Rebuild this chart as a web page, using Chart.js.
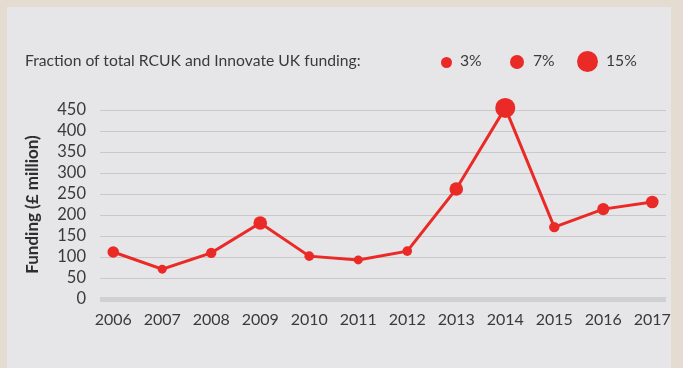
<html lang="en">
<head>
    <title>Funding chart</title>
    <style>
        body { margin: 0; background: #e4dcd1; }
        #panel { position: absolute; left: 7px; top: 7px; width: 664px; height: 361px; background: #e6e6e8; }
        #wrap { position: absolute; left: 0; top: 0; width: 683px; height: 368px; }
        .leg { position: absolute; top: 51px; font-family: Lato, sans-serif; font-size: 15.7px; color: #3a3a3a; }
        .dot { position: absolute; background: #ea2a27; border-radius: 50%; }
    </style>
</head>

<body>
    <div id="panel"></div>
    <div id="wrap"><canvas id="fundChart" width="683" height="368"></canvas></div>

    <!--    Legend   -->
    <div class="leg" style="left:25px">Fraction of total RCUK and Innovate UK funding:</div>
    <div class="dot" style="left:441px; top:57px; width:11px; height:11px"></div>
    <div class="leg" style="left:460px">3%</div>
    <div class="dot" style="left:510px; top:55px; width:14px; height:14px"></div>
    <div class="leg" style="left:533px">7%</div>
    <div class="dot" style="left:577px; top:51px; width:21px; height:21px"></div>
    <div class="leg" style="left:606px">15%</div>

    <script src="https://cdn.jsdelivr.net/npm/chart.js"></script>
    <script>
        const years = [2006, 2007, 2008, 2009, 2010, 2011, 2012, 2013, 2014, 2015, 2016, 2017];
        const funding = [112, 71, 110, 181, 102, 93, 114, 262, 455, 171, 214, 231];
        // fraction of total RCUK + Innovate UK funding (%)
        const fraction = [5, 3, 4, 7, 3.5, 3, 3.5, 7, 15, 4, 5.5, 6];
        const yTicks = [0, 50, 100, 150, 200, 250, 300, 350, 400, 450];

        const red = '#ea2a27';
        const font = 'Lato, sans-serif';

        const fund_c = document.getElementById('fundChart');
        const fundChart = new Chart(fund_c, {
            type: 'line',
            data: {
                datasets: [{
                    label: 'Funding',
                    data: years.map((y, i) => ({x: y, y: funding[i]})),
                    borderColor: red,
                    backgroundColor: red,
                    borderWidth: 3,
                    pointRadius: ctx => 10 * Math.sqrt(fraction[ctx.dataIndex] / 15),
                    pointBorderWidth: 0,
                    tension: 0,
                    clip: false
                }],
            },
            options: {
                responsive: false,
                animation: false,
                layout: {padding: {left: 22, right: 17, top: 110, bottom: 0}},
                plugins: {legend: {display: false}, tooltip: {enabled: false}},
                scales: {
                    x: {
                        type: 'linear',
                        min: 2005.73,
                        max: 2017.28,
                        afterBuildTicks: s => { s.ticks = years.map(v => ({value: v})); },
                        afterFit: s => { s.height = 69; },
                        grid: {display: false},
                        border: {display: false},
                        ticks: {
                            padding: 3,
                            color: '#3a3a3a',
                            font: {family: font, size: 16},
                            callback: v => String(v),
                            maxRotation: 0,
                            autoSkip: false
                        }
                    },
                    y: {
                        min: 0,
                        max: 450,
                        afterBuildTicks: s => { s.ticks = yTicks.map(v => ({value: v})); },
                        afterFit: s => { s.width = 78; },
                        border: {display: false},
                        grid: {
                            drawTicks: false,
                            color: ctx => ctx.tick && ctx.tick.value === 0 ? '#cfd0d2' : '#c9c9cb',
                            lineWidth: ctx => ctx.tick && ctx.tick.value === 0 ? 5 : 1
                        },
                        ticks: {
                            padding: 14,
                            autoSkip: false,
                            color: '#3a3a3a',
                            font: {family: font, size: 16.5}
                        },
                        title: {
                            display: true,
                            text: 'Funding (£ million)',
                            color: '#2e2e2e',
                            font: {family: font, size: 17, weight: 'bold'},
                            padding: 0
                        }
                    }
                }
            }
        });
    </script>
</body>
</html>
